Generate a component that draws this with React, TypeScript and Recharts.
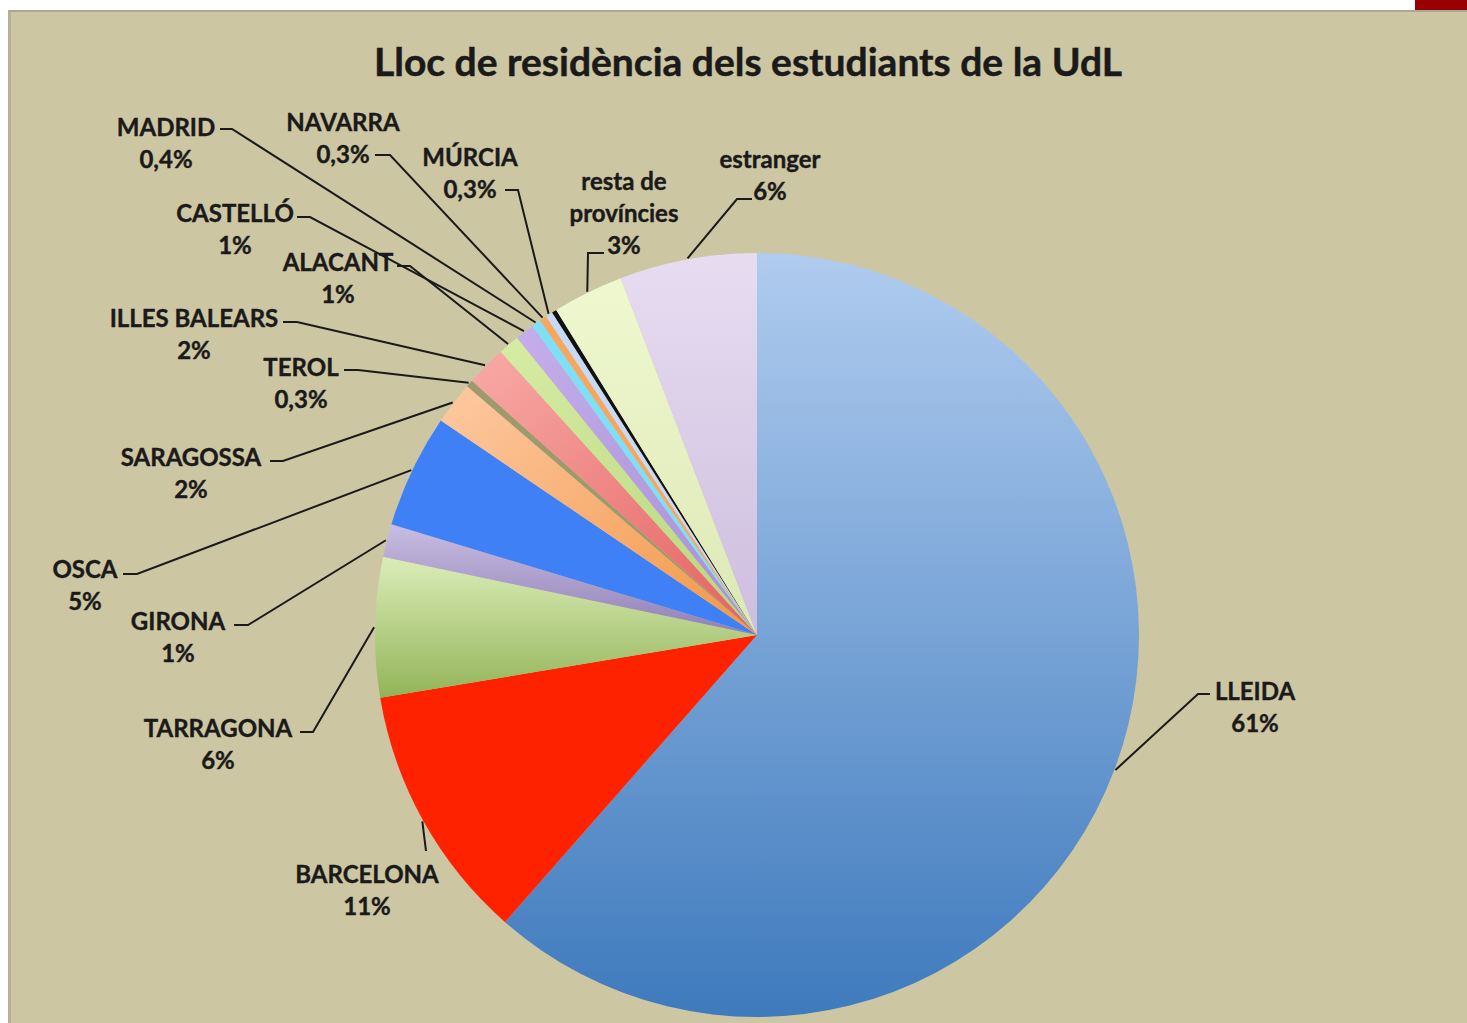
import React from 'react'
import { PieChart, Pie, Cell } from 'recharts'

// slice order runs clockwise from 12 o'clock, as in the original
const names = [
  'LLEIDA', 'BARCELONA', 'TARRAGONA', 'GIRONA', 'OSCA', 'SARAGOSSA', 'TEROL',
  'ILLES BALEARS', 'ALACANT', 'CASTELLÓ', 'MADRID', 'NAVARRA', 'MÚRCIA', '',
  'resta de províncies', 'estranger',
]
const values = [61.4, 10.9, 5.9, 1.4, 4.8, 1.8, 0.3, 1.7, 0.9, 0.8, 0.4, 0.3, 0.3, 0.2, 3.0, 5.8]
const percentLabels = [
  '61%', '11%', '6%', '1%', '5%', '2%', '0,3%', '2%', '1%', '1%', '0,4%', '0,3%', '0,3%', '',
  '3%', '6%',
]

const W = 1467
const H = 1023
const CX = 757
const CY = 635
const R = 382

const fills = [
  'url(#gLleida)', '#ff2200', 'url(#gTarragona)', 'url(#gGirona)', '#3f80f6', 'url(#gSaragossa)',
  '#9e9a6c', 'url(#gBalears)', 'url(#gAlacant)', 'url(#gCastello)', '#7edff7', '#f8a65e',
  '#c6daf6', '#111111', 'url(#gResta)', 'url(#gEstranger)',
]

// label text placement (first line centre) and the short horizontal stub of each leader
const labelLayout = [
  { tx: 1255, ty: 690, sx1: 1210, sx2: 1198, sy: 694 },
  { tx: 367, ty: 873, sx1: 426, sx2: 426, sy: 851 },
  { tx: 218, ty: 727, sx1: 300, sx2: 313, sy: 732 },
  { tx: 178, ty: 620, sx1: 234, sx2: 248, sy: 625 },
  { tx: 85, ty: 568, sx1: 123, sx2: 137, sy: 574 },
  { tx: 191, ty: 456, sx1: 270, sx2: 283, sy: 461 },
  { tx: 301, ty: 366, sx1: 344, sx2: 358, sy: 370 },
  { tx: 194, ty: 317, sx1: 283, sx2: 297, sy: 322 },
  { tx: 338, ty: 261, sx1: 397, sx2: 410, sy: 266 },
  { tx: 235, ty: 212, sx1: 297, sx2: 310, sy: 217 },
  { tx: 166, ty: 126, sx1: 220, sx2: 232, sy: 129 },
  { tx: 343, ty: 121, sx1: 375, sx2: 390, sy: 155 },
  { tx: 470, ty: 156, sx1: 505, sx2: 518, sy: 190 },
  null,
  { tx: 624, ty: 180, sx1: 604, sx2: 588, sy: 253 },
  { tx: 770, ty: 158, sx1: 752, sx2: 737, sy: 199 },
]

const data = names.map((name, i) => ({ name, value: values[i] }))

const FONT = 'Lato, "Open Sans", sans-serif'
const RAD = Math.PI / 180

const renderLabel = (props: any) => {
  const { cx, cy, midAngle, outerRadius, index } = props
  const lay = labelLayout[index]
  if (!lay) return null
  const ex = cx + (outerRadius + 1) * Math.cos(-midAngle * RAD)
  const ey = cy + (outerRadius + 1) * Math.sin(-midAngle * RAD)
  const lines = names[index] === 'resta de províncies'
    ? ['resta de', 'províncies', percentLabels[index]]
    : [names[index], percentLabels[index]]
  return (
    <g key={`lbl-${index}`}>
      <polyline
        points={`${lay.sx1},${lay.sy} ${lay.sx2},${lay.sy} ${ex},${ey}`}
        fill="none"
        stroke="#1a1a1a"
        strokeWidth={2}
      />
      {lines.map((t, j) => (
        <text
          key={j}
          x={lay.tx}
          y={lay.ty + j * 32}
          textAnchor="middle"
          dominantBaseline="central"
          fontFamily={FONT}
          fontWeight={700}
          fontSize={24}
          fill="#1a1a1a"
          stroke="#1a1a1a"
          strokeWidth={0.4}
        >
          {t}
        </text>
      ))}
    </g>
  )
}

export default function App() {
  return (
    <div style={{ position: 'absolute', left: 0, top: 0, width: W, height: H, background: '#fff', overflow: 'hidden' }}>
      <div style={{ position: 'absolute', left: 1415, top: 0, width: 52, height: 10, background: '#990000' }} />
      <div
        style={{
          position: 'absolute', left: 8, top: 10, width: W - 8, height: H - 10,
          background: '#cdc6a2', borderTop: '2px solid #a9a894', borderLeft: '3px solid #b3b19c',
          boxSizing: 'border-box',
        }}
      />
      <div
        style={{
          position: 'absolute', left: 0, top: 38, width: 1496, textAlign: 'center',
          fontFamily: FONT, fontWeight: 700, fontSize: 39, color: '#1a1a1a',
          WebkitTextStroke: '0.5px #1a1a1a',
        }}
      >
        Lloc de residència dels estudiants de la UdL
      </div>
      <div style={{ position: 'absolute', left: 0, top: 0 }}>
        <PieChart width={W} height={H} margin={{ top: 0, right: 0, bottom: 0, left: 0 }}>
          <defs>
            <linearGradient id="gLleida" x1="0" y1="0" x2="0" y2="1">
              <stop offset="0%" stopColor="#b0ccef" />
              <stop offset="100%" stopColor="#3e7abd" />
            </linearGradient>
            <linearGradient id="gTarragona" x1="0" y1="0" x2="0" y2="1">
              <stop offset="0%" stopColor="#dbedb8" />
              <stop offset="100%" stopColor="#92b458" />
            </linearGradient>
            <linearGradient id="gGirona" x1="0" y1="0" x2="0" y2="1">
              <stop offset="0%" stopColor="#c8bde2" />
              <stop offset="100%" stopColor="#9080b6" />
            </linearGradient>
            <linearGradient id="gSaragossa" x1="0" y1="0" x2="1" y2="1">
              <stop offset="0%" stopColor="#fdc9a2" />
              <stop offset="100%" stopColor="#f39646" />
            </linearGradient>
            <linearGradient id="gBalears" x1="0" y1="0" x2="1" y2="1">
              <stop offset="0%" stopColor="#f8aaa6" />
              <stop offset="100%" stopColor="#e46060" />
            </linearGradient>
            <linearGradient id="gAlacant" x1="0" y1="0" x2="1" y2="1">
              <stop offset="0%" stopColor="#d6eca4" />
              <stop offset="100%" stopColor="#b6d67a" />
            </linearGradient>
            <linearGradient id="gCastello" x1="0" y1="0" x2="1" y2="1">
              <stop offset="0%" stopColor="#c4aeea" />
              <stop offset="100%" stopColor="#a68ed6" />
            </linearGradient>
            <linearGradient id="gResta" x1="0" y1="0" x2="0" y2="1">
              <stop offset="0%" stopColor="#eff8cf" />
              <stop offset="100%" stopColor="#dde8b6" />
            </linearGradient>
            <linearGradient id="gEstranger" x1="0" y1="0" x2="0" y2="1">
              <stop offset="0%" stopColor="#e7ddf1" />
              <stop offset="100%" stopColor="#cdbede" />
            </linearGradient>
          </defs>
          <Pie
            data={data}
            dataKey="value"
            nameKey="name"
            cx={CX}
            cy={CY}
            outerRadius={R}
            startAngle={90}
            endAngle={-270}
            stroke="none"
            label={renderLabel}
            labelLine={false}
            isAnimationActive={false}
          >
            {data.map((d, i) => (
              <Cell key={d.name + i} fill={fills[i]} stroke="none" />
            ))}
          </Pie>
        </PieChart>
      </div>
    </div>
  )
}
